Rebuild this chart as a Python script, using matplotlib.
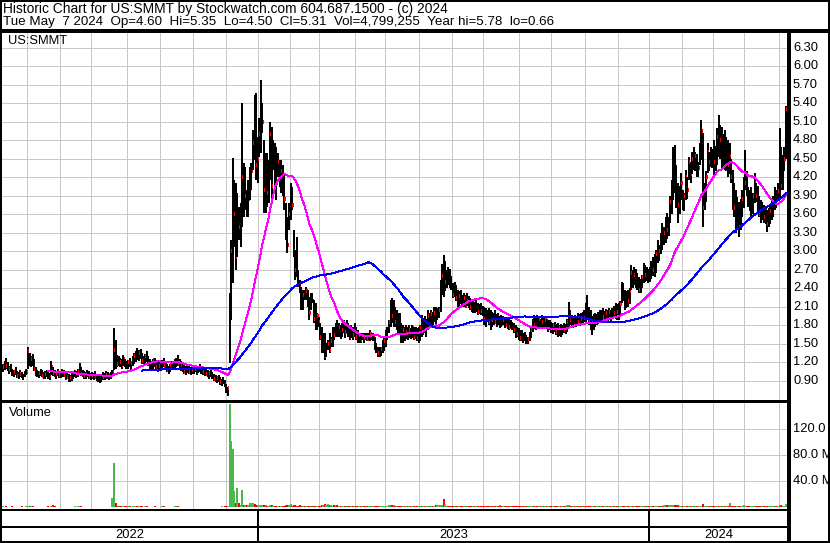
import matplotlib
matplotlib.use("Agg")
import matplotlib.pyplot as plt
from matplotlib.collections import LineCollection
from matplotlib.lines import Line2D
from matplotlib.transforms import blended_transform_factory
import numpy as np
import pandas as pd

plt.rcParams['font.family'] = ['Liberation Sans', 'DejaVu Sans']

# ---------------- data (daily, 2022-05-09 .. 2024-05-07) ----------------
highs = [
    1.18, 1.22, 1.28, 1.20, 1.15, 1.17, 1.10, 1.08, 1.12, 1.06, 1.04, 1.07, 1.05, 1.02, 1.06, 1.10,
    1.45, 1.35, 1.30, 1.33, 1.25, 1.12, 1.08, 1.06, 1.10, 1.07, 1.04, 1.06, 1.08, 1.05, 1.03, 1.22, 1.12, 1.08, 1.05, 1.10, 1.06,
    1.06, 1.10, 1.08, 1.04, 1.05, 1.02, 1.00, 1.03, 1.05, 1.08, 1.06, 1.10, 1.19, 1.12, 1.08, 1.06, 1.04, 1.08, 1.06, 1.03,
    1.05, 1.03, 1.06, 1.02, 1.00, 0.98, 1.02, 1.04, 1.03, 1.06, 1.04, 1.02, 1.05, 1.08, 1.75, 1.56, 1.32, 1.30, 1.28, 1.26, 1.32, 1.25, 1.22,
    1.24, 1.28, 1.22, 1.30, 1.35, 1.38, 1.43, 1.40, 1.42, 1.36, 1.30, 1.33, 1.38, 1.30, 1.26, 1.22, 1.25, 1.28, 1.24, 1.20, 1.22,
    1.20, 1.24, 1.27, 1.22, 1.18, 1.15, 1.18, 1.22, 1.20, 1.25, 1.28, 1.32, 1.26, 1.22, 1.20, 1.16, 1.14, 1.18, 1.15, 1.12, 1.14,
    1.14, 1.16, 1.12, 1.15, 1.18, 1.14, 1.12, 1.10, 1.12, 1.08, 1.06, 1.09, 1.05, 1.02, 1.00, 0.98, 1.00, 0.96, 0.94, 0.97, 0.92,
    0.85, 0.80, 2.32, 3.18, 4.51, 4.15, 4.10, 3.94, 3.72, 3.78, 5.40, 4.43, 4.37, 3.99, 4.15, 4.37, 4.43, 4.96, 5.53, 5.56, 4.85,
    5.16, 5.78, 5.40, 4.80, 4.59, 4.59, 4.48, 5.09, 5.01, 4.80, 4.75, 4.69, 4.59, 4.48, 4.48, 4.40, 4.27, 3.78, 3.55, 3.78,
    4.10, 4.04, 3.34, 3.02, 3.23, 2.70, 2.54, 2.42, 2.37, 2.37, 2.42, 2.37, 2.26, 2.32, 2.32, 2.21, 2.16, 2.00, 1.94,
    1.84, 1.77, 1.68, 1.68, 1.52, 1.56, 1.68, 1.61, 1.77, 1.77, 1.84, 1.89, 1.84, 1.80, 1.84, 1.89, 1.82, 1.89, 1.84, 1.77, 1.80, 1.77, 1.84,
    1.77, 1.73, 1.68, 1.68, 1.68, 1.68, 1.68, 1.68, 1.68, 1.73, 1.68, 1.68, 1.61, 1.52, 1.45, 1.45, 1.45, 1.56, 1.60,
    1.73, 1.77, 1.89, 2.21, 2.24, 2.21, 2.10, 2.05, 2.00, 2.00, 1.84, 1.80, 1.77, 1.80, 1.78, 1.80, 1.76, 1.80, 1.77, 1.78, 1.75, 1.77,
    1.80, 1.97, 1.92, 1.95, 1.90, 2.05, 2.00, 2.05, 2.02, 2.10, 2.10, 2.08, 2.10, 2.54, 2.80, 2.94, 2.85, 2.70, 2.75, 2.72, 2.60,
    2.48, 2.50, 2.45, 2.37, 2.35, 2.37, 2.30, 2.32, 2.30, 2.32, 2.28, 2.25, 2.21, 2.20, 2.18, 2.21, 2.16, 2.15, 2.16, 2.12,
    2.10, 2.08, 2.05, 2.08, 2.05, 2.02, 2.00, 2.05, 1.98, 2.00, 1.95, 1.97, 1.95, 1.92, 1.94, 1.92, 1.90, 1.88, 1.85, 1.84, 1.80, 1.78, 1.75,
    1.72, 1.73, 1.68, 1.70, 1.65, 1.62, 1.70, 1.77, 1.90, 1.97, 1.92, 1.97, 1.95, 1.90, 1.97, 1.92, 1.95, 1.90, 1.89, 1.88,
    1.85, 1.84, 1.86, 1.82, 1.84, 1.80, 1.82, 1.80, 1.84, 1.82, 1.90, 2.18, 2.05, 1.97, 1.95, 1.97, 1.95, 2.00, 1.98, 2.00, 2.02, 2.05,
    2.16, 2.29, 2.10, 2.05, 1.95, 1.98, 2.00, 1.98, 2.02, 2.05, 2.05, 2.08, 2.04, 2.06, 2.05, 2.08, 2.05, 2.08, 2.12, 2.16, 2.14,
    2.16, 2.20, 2.51, 2.48, 2.37, 2.35, 2.37, 2.40, 2.78, 2.70, 2.75, 2.72, 2.65, 2.59, 2.55, 2.62, 2.81, 2.78, 2.75, 2.72,
    2.75, 2.85, 2.90, 2.95, 3.02, 3.18, 3.10, 3.30, 3.46, 3.40, 3.55, 3.62, 3.55, 3.90, 4.15, 4.69, 4.72, 4.40, 4.10, 4.05, 4.26,
    3.99, 3.95, 4.32, 4.20, 4.53, 4.45, 4.60, 4.69, 4.60, 4.58, 4.45, 4.75, 5.13, 4.91, 4.10, 4.30, 4.75, 4.60, 4.69, 4.65,
    4.80, 4.70, 5.00, 5.21, 5.05, 5.01, 4.90, 4.96, 4.85, 4.80, 4.75, 4.50, 4.32, 4.10, 3.99, 3.88, 3.80, 3.85, 3.99, 4.20,
    4.64, 4.30, 4.04, 4.00, 4.04, 3.95, 4.27, 4.10, 4.05, 3.90, 3.83, 3.80, 3.75, 3.72, 3.67, 3.70, 3.75, 3.83, 3.90, 4.04, 4.00, 4.10,
    5.00, 4.69, 4.56, 4.69, 5.35,
]
lows = [
    1.05, 1.08, 1.10, 1.06, 1.02, 1.04, 0.98, 0.96, 1.00, 0.95, 0.94, 0.97, 0.95, 0.92, 0.96, 0.99,
    1.10, 1.15, 1.12, 1.14, 1.06, 0.98, 0.96, 0.95, 0.98, 0.96, 0.93, 0.94, 0.96, 0.94, 0.92, 1.00, 0.98, 0.96, 0.94, 0.98, 0.95,
    0.95, 0.97, 0.96, 0.92, 0.93, 0.89, 0.88, 0.90, 0.93, 0.96, 0.95, 0.97, 1.00, 0.98, 0.96, 0.94, 0.93, 0.96, 0.94, 0.92,
    0.94, 0.92, 0.93, 0.90, 0.88, 0.87, 0.89, 0.92, 0.91, 0.94, 0.93, 0.91, 0.94, 0.97, 1.08, 1.10, 1.12, 1.14, 1.13, 1.10, 1.15, 1.12, 1.09,
    1.10, 1.12, 1.08, 1.14, 1.18, 1.20, 1.24, 1.22, 1.25, 1.18, 1.14, 1.16, 1.20, 1.14, 1.10, 1.07, 1.10, 1.12, 1.08, 1.05, 1.07,
    1.06, 1.10, 1.12, 1.08, 1.04, 1.02, 1.05, 1.08, 1.07, 1.10, 1.12, 1.15, 1.10, 1.06, 1.05, 1.02, 1.00, 1.03, 1.02, 0.99, 1.01,
    1.02, 1.04, 1.00, 1.03, 1.05, 1.02, 1.00, 0.98, 1.00, 0.96, 0.94, 0.97, 0.93, 0.90, 0.88, 0.86, 0.88, 0.84, 0.82, 0.85, 0.80,
    0.70, 0.66, 1.19, 1.89, 2.49, 3.07, 2.70, 2.91, 3.18, 3.07, 3.39, 3.55, 3.67, 3.55, 3.55, 3.83, 3.99, 4.32, 4.48, 4.15, 4.10,
    4.53, 4.59, 4.91, 3.62, 3.62, 3.72, 3.78, 4.15, 3.78, 4.32, 4.04, 3.83, 4.20, 4.04, 3.94, 3.90, 3.67, 3.18, 2.97, 3.34,
    3.51, 3.67, 2.91, 2.54, 2.58, 2.42, 2.32, 2.05, 2.05, 2.21, 2.21, 2.10, 1.89, 2.05, 2.16, 1.84, 1.73, 1.73, 1.77,
    1.56, 1.35, 1.35, 1.24, 1.29, 1.40, 1.35, 1.45, 1.45, 1.56, 1.61, 1.61, 1.61, 1.58, 1.61, 1.68, 1.60, 1.68, 1.61, 1.56, 1.60, 1.56, 1.61,
    1.56, 1.52, 1.52, 1.52, 1.56, 1.52, 1.56, 1.54, 1.56, 1.54, 1.56, 1.54, 1.40, 1.35, 1.29, 1.29, 1.30, 1.35, 1.38,
    1.45, 1.56, 1.68, 1.77, 1.84, 1.77, 1.77, 1.73, 1.68, 1.68, 1.52, 1.52, 1.55, 1.58, 1.56, 1.60, 1.58, 1.60, 1.56, 1.58, 1.55, 1.52,
    1.55, 1.61, 1.65, 1.68, 1.62, 1.73, 1.75, 1.78, 1.76, 1.85, 1.80, 1.89, 1.92, 2.02, 2.30, 2.26, 2.35, 2.40, 2.45, 2.40, 2.37,
    2.24, 2.26, 2.20, 2.10, 2.12, 2.15, 2.10, 2.10, 2.08, 2.12, 2.08, 2.05, 2.02, 2.00, 2.00, 2.02, 1.97, 1.98, 1.97, 1.96,
    1.80, 1.78, 1.85, 1.80, 1.73, 1.78, 1.80, 1.82, 1.78, 1.80, 1.76, 1.78, 1.80, 1.76, 1.78, 1.74, 1.73, 1.75, 1.73, 1.68, 1.60, 1.62, 1.56,
    1.55, 1.55, 1.52, 1.55, 1.50, 1.50, 1.55, 1.60, 1.70, 1.74, 1.73, 1.76, 1.74, 1.76, 1.78, 1.75, 1.78, 1.74, 1.70, 1.72,
    1.68, 1.66, 1.70, 1.65, 1.62, 1.63, 1.62, 1.65, 1.68, 1.66, 1.70, 1.77, 1.80, 1.78, 1.76, 1.80, 1.78, 1.80, 1.79, 1.80, 1.82, 1.85,
    1.85, 1.90, 1.80, 1.72, 1.65, 1.72, 1.78, 1.80, 1.82, 1.84, 1.86, 1.88, 1.85, 1.88, 1.86, 1.88, 1.85, 1.90, 1.92, 1.90, 1.89,
    1.89, 1.95, 2.16, 2.20, 2.05, 2.08, 2.10, 2.15, 2.37, 2.40, 2.45, 2.40, 2.38, 2.32, 2.32, 2.40, 2.48, 2.50, 2.52, 2.48,
    2.50, 2.55, 2.60, 2.58, 2.65, 2.81, 2.85, 2.95, 3.02, 3.10, 3.13, 3.20, 3.25, 3.46, 3.60, 3.83, 3.95, 3.70, 3.46, 3.60, 3.83,
    3.67, 3.65, 3.83, 3.85, 4.15, 4.10, 4.25, 4.32, 4.30, 4.20, 4.20, 4.40, 4.48, 3.39, 3.67, 3.80, 4.27, 4.30, 4.37, 4.35,
    4.20, 4.30, 4.40, 4.53, 4.50, 4.32, 4.35, 4.32, 4.30, 4.20, 4.25, 4.10, 3.67, 3.55, 3.29, 3.40, 3.23, 3.35, 3.55, 3.70,
    3.99, 3.90, 3.72, 3.65, 3.55, 3.60, 3.78, 3.80, 3.62, 3.55, 3.46, 3.50, 3.46, 3.45, 3.31, 3.40, 3.45, 3.50, 3.55, 3.67, 3.70, 3.83,
    3.85, 3.99, 4.00, 4.30, 4.50,
]
closes = [
    1.12, 1.18, 1.14, 1.09, 1.10, 1.06, 1.01, 1.04, 1.02, 0.98, 1.00, 1.01, 0.97, 0.99, 1.03, 1.05,
    1.38, 1.20, 1.25, 1.18, 1.10, 1.02, 1.00, 1.03, 1.01, 0.98, 0.99, 1.02, 0.98, 0.97, 1.00, 1.12, 1.03, 1.00, 1.02, 1.04, 0.99,
    1.00, 1.04, 0.99, 0.95, 0.97, 0.92, 0.95, 0.99, 1.01, 1.04, 1.00, 1.06, 1.10, 1.02, 1.00, 0.98, 1.01, 1.02, 0.97, 0.96,
    0.98, 0.95, 0.97, 0.92, 0.90, 0.94, 0.97, 0.96, 1.00, 0.99, 0.97, 1.00, 1.03, 1.05, 1.40, 1.20, 1.18, 1.24, 1.20, 1.16, 1.25, 1.17, 1.14,
    1.20, 1.15, 1.19, 1.27, 1.30, 1.35, 1.28, 1.36, 1.26, 1.22, 1.28, 1.31, 1.24, 1.18, 1.14, 1.20, 1.24, 1.15, 1.12, 1.16, 1.14,
    1.15, 1.20, 1.14, 1.10, 1.08, 1.12, 1.16, 1.12, 1.20, 1.22, 1.26, 1.18, 1.14, 1.16, 1.10, 1.05, 1.12, 1.08, 1.04, 1.10, 1.07,
    1.08, 1.10, 1.05, 1.12, 1.08, 1.06, 1.04, 1.07, 1.02, 0.99, 1.03, 1.00, 0.96, 0.94, 0.92, 0.95, 0.90, 0.88, 0.92, 0.86, 0.84,
    0.76, 0.78, 2.20, 3.00, 3.40, 3.60, 2.90, 3.60, 3.40, 3.45, 4.20, 3.75, 3.90, 3.75, 3.85, 4.05, 4.30, 4.75, 4.70, 4.40, 4.50,
    4.90, 5.00, 5.10, 4.00, 4.20, 3.95, 4.30, 4.90, 4.05, 4.60, 4.40, 4.10, 4.45, 4.20, 4.30, 4.05, 3.85, 3.35, 3.10, 3.60,
    3.95, 3.75, 3.00, 2.70, 2.62, 2.50, 2.40, 2.10, 2.30, 2.25, 2.35, 2.15, 2.00, 2.25, 2.20, 1.90, 1.80, 1.95, 1.85,
    1.62, 1.45, 1.55, 1.30, 1.45, 1.50, 1.40, 1.55, 1.70, 1.65, 1.75, 1.70, 1.78, 1.65, 1.72, 1.80, 1.70, 1.75, 1.70, 1.62, 1.72, 1.65, 1.70,
    1.62, 1.58, 1.64, 1.57, 1.62, 1.60, 1.64, 1.58, 1.62, 1.66, 1.60, 1.62, 1.45, 1.40, 1.35, 1.38, 1.42, 1.50, 1.55,
    1.70, 1.74, 1.85, 2.15, 1.95, 2.05, 1.85, 1.95, 1.80, 1.75, 1.60, 1.72, 1.62, 1.70, 1.65, 1.72, 1.66, 1.75, 1.62, 1.70, 1.60, 1.65,
    1.75, 1.70, 1.85, 1.78, 1.80, 1.95, 1.82, 1.98, 1.90, 2.00, 1.95, 2.02, 2.05, 2.45, 2.60, 2.40, 2.50, 2.62, 2.55, 2.48, 2.45,
    2.30, 2.40, 2.25, 2.15, 2.28, 2.20, 2.15, 2.25, 2.12, 2.20, 2.15, 2.10, 2.08, 2.12, 2.05, 2.10, 2.02, 2.08, 2.04, 2.00,
    1.90, 1.95, 1.92, 1.85, 1.95, 1.88, 1.92, 1.86, 1.90, 1.85, 1.90, 1.82, 1.88, 1.84, 1.80, 1.86, 1.78, 1.82, 1.76, 1.72, 1.70, 1.66, 1.62,
    1.60, 1.65, 1.58, 1.62, 1.55, 1.58, 1.66, 1.72, 1.85, 1.80, 1.88, 1.82, 1.90, 1.80, 1.86, 1.82, 1.88, 1.78, 1.82, 1.76,
    1.75, 1.80, 1.72, 1.70, 1.68, 1.75, 1.70, 1.76, 1.72, 1.78, 1.85, 1.95, 1.88, 1.84, 1.90, 1.85, 1.92, 1.86, 1.94, 1.90, 1.96, 1.92,
    2.05, 2.00, 1.88, 1.80, 1.85, 1.90, 1.86, 1.92, 1.95, 1.90, 1.98, 1.94, 1.96, 2.00, 1.95, 2.02, 1.98, 2.05, 2.00, 2.08, 2.02,
    2.10, 2.15, 2.40, 2.30, 2.15, 2.25, 2.20, 2.35, 2.65, 2.50, 2.62, 2.48, 2.42, 2.38, 2.50, 2.58, 2.70, 2.62, 2.68, 2.60,
    2.65, 2.80, 2.70, 2.90, 2.95, 3.05, 3.00, 3.20, 3.15, 3.30, 3.45, 3.35, 3.50, 3.80, 4.00, 4.50, 4.30, 3.80, 3.75, 3.95, 4.10,
    3.80, 3.90, 4.20, 4.00, 4.45, 4.25, 4.50, 4.40, 4.55, 4.30, 4.35, 4.60, 4.95, 3.70, 3.95, 4.20, 4.60, 4.45, 4.55, 4.50,
    4.45, 4.60, 4.85, 4.70, 4.80, 4.55, 4.75, 4.50, 4.65, 4.40, 4.55, 4.20, 3.80, 3.70, 3.50, 3.65, 3.40, 3.70, 3.85, 4.05,
    4.10, 4.00, 3.85, 3.75, 3.80, 3.90, 4.10, 3.90, 3.70, 3.60, 3.55, 3.70, 3.55, 3.65, 3.45, 3.60, 3.65, 3.75, 3.80, 3.95, 3.85, 3.98,
    4.62, 4.05, 4.45, 4.50, 5.31,
]
volumes = [  # millions of shares
    0.5, 0.4, 0.6, 0.4, 0.3, 0.4, 0.5, 0.4, 0.3, 0.4, 0.4, 0.3, 0.5, 0.4, 0.4, 0.5,
    1.5, 0.8, 0.6, 0.5, 0.4, 0.4, 0.3, 0.4, 0.4, 0.3, 0.4, 0.3, 0.4, 0.5, 0.4, 0.9, 2.0, 0.5, 0.4, 0.4, 0.3,
    0.4, 0.3, 0.4, 0.3, 0.4, 0.3, 0.3, 0.4, 0.4, 0.5, 0.4, 0.5, 0.9, 0.5, 0.4, 0.3, 0.4, 0.4, 0.3, 0.3,
    0.3, 0.4, 0.3, 0.3, 0.4, 0.3, 0.4, 0.3, 0.4, 0.3, 0.4, 0.3, 0.4, 13.0, 67.0, 5.5, 1.5, 1.2, 1.0, 0.8, 1.0, 0.6, 0.5,
    0.6, 0.5, 0.4, 0.6, 0.7, 0.6, 0.8, 0.6, 0.7, 0.5, 0.4, 0.5, 0.6, 0.4, 0.4, 0.3, 0.4, 0.5, 0.4, 0.3, 0.4,
    0.4, 0.5, 0.5, 0.4, 0.3, 0.3, 0.4, 0.4, 0.3, 0.5, 0.5, 0.7, 0.4, 0.4, 0.3, 0.3, 0.3, 0.4, 0.3, 0.3, 0.3,
    0.3, 0.4, 0.3, 0.4, 0.4, 0.3, 0.3, 0.3, 0.3, 0.3, 0.3, 0.3, 0.3, 0.4, 0.3, 0.4, 0.3, 0.4, 0.5, 0.4, 0.6,
    0.8, 1.0, 159.0, 102.0, 89.0, 24.0, 5.5, 29.0, 5.5, 3.0, 26.0, 3.0, 3.5, 3.0, 2.5, 5.5, 5.5, 5.5, 4.0, 3.0, 3.0,
    2.5, 2.5, 2.5, 2.0, 2.5, 1.5, 1.5, 2.0, 2.0, 1.5, 1.2, 1.5, 1.2, 1.0, 1.5, 1.2, 1.5, 2.5, 2.5, 2.0,
    4.0, 1.5, 2.0, 2.0, 1.5, 1.5, 2.0, 1.5, 1.0, 1.0, 1.0, 0.8, 1.0, 0.8, 1.0, 0.8, 1.5, 1.5, 1.5,
    1.0, 3.0, 3.5, 4.0, 3.0, 5.0, 2.0, 2.0, 1.5, 2.5, 2.5, 2.5, 1.5, 1.5, 1.0, 1.0, 0.8, 1.0, 0.8, 0.8, 1.0, 1.0, 0.8,
    0.8, 1.0, 0.8, 1.0, 1.0, 1.0, 0.8, 0.8, 0.8, 0.8, 0.8, 0.8, 0.8, 0.8, 1.5, 1.5, 1.5, 1.0, 1.0,
    1.0, 1.0, 2.0, 2.5, 2.0, 2.0, 1.0, 1.0, 1.5, 1.5, 1.5, 1.0, 0.8, 0.8, 0.8, 0.8, 0.8, 0.8, 0.8, 0.8, 1.5, 0.8,
    0.8, 0.8, 0.8, 0.8, 0.8, 0.8, 0.8, 0.8, 0.8, 0.8, 3.5, 3.5, 3.5, 3.5, 3.5, 12.0, 2.0, 1.5, 1.0, 0.8, 0.8,
    0.8, 0.8, 0.8, 0.8, 0.8, 0.8, 0.8, 0.8, 0.8, 0.8, 0.8, 0.8, 0.8, 0.8, 1.0, 1.2, 1.0, 0.8, 0.8, 0.8,
    0.8, 0.8, 0.8, 0.8, 1.0, 1.2, 1.5, 1.0, 1.2, 1.0, 2.0, 1.2, 1.0, 1.0, 1.0, 1.2, 0.8, 0.8, 0.8, 0.8, 0.8, 0.8, 0.8,
    0.8, 0.8, 1.0, 0.8, 0.8, 0.8, 0.8, 0.8, 0.8, 1.0, 0.8, 0.8, 0.8, 0.8, 0.8, 0.8, 0.8, 0.8, 0.8, 0.8,
    0.8, 0.8, 0.8, 0.8, 0.8, 0.8, 0.8, 0.8, 0.8, 0.8, 3.0, 3.0, 1.0, 0.8, 0.8, 0.8, 0.8, 0.8, 0.8, 0.8, 0.8, 0.8,
    1.5, 1.5, 1.5, 1.5, 1.5, 0.8, 0.8, 0.8, 0.8, 0.8, 0.8, 0.8, 0.8, 0.8, 0.8, 0.8, 0.8, 0.8, 1.0, 1.0, 1.0,
    1.0, 1.0, 1.2, 1.0, 0.8, 0.8, 0.8, 1.0, 1.2, 1.0, 1.0, 0.8, 0.8, 0.8, 0.8, 0.8, 1.0, 1.0, 1.0, 1.0,
    1.0, 1.0, 1.0, 1.0, 1.0, 1.0, 0.8, 0.8, 0.8, 2.0, 2.0, 2.0, 2.0, 2.0, 2.0, 2.5, 2.5, 2.5, 2.5, 1.5, 1.5,
    1.5, 1.5, 1.5, 1.5, 1.5, 1.5, 1.5, 1.5, 1.5, 1.5, 1.5, 1.5, 1.5, 4.5, 1.0, 1.0, 1.0, 1.0, 1.0, 0.8,
    0.8, 0.8, 1.0, 1.0, 1.0, 1.0, 1.0, 1.0, 1.0, 1.0, 5.5, 1.5, 1.5, 1.5, 1.5, 1.5, 1.5, 1.5, 1.5, 3.0,
    1.5, 1.5, 1.5, 1.5, 1.5, 1.5, 1.5, 1.5, 1.5, 0.8, 0.8, 0.8, 0.8, 0.8, 1.0, 1.0, 0.8, 1.0, 0.8, 0.8, 1.0, 1.0,
    3.0, 2.0, 1.5, 1.5, 4.8,
]
market_holidays = [
    "2022-05-30", "2022-06-20", "2022-07-04", "2022-09-05", "2022-11-24", "2022-12-26",
    "2023-01-02", "2023-01-16", "2023-02-20", "2023-04-07", "2023-05-29", "2023-06-19",
    "2023-07-04", "2023-09-04", "2023-11-23", "2023-12-25",
    "2024-01-01", "2024-01-15", "2024-02-19", "2024-03-29",
]
price_ticks = [0.90, 1.20, 1.50, 1.80, 2.10, 2.40, 2.70, 3.00, 3.30, 3.60, 3.90,
               4.20, 4.50, 4.80, 5.10, 5.40, 5.70, 6.00, 6.30]
volume_ticks = [40, 80, 120]
header1 = "Historic Chart for US:SMMT by Stockwatch.com 604.687.1500 - (c) 2024"
header2 = "Tue May  7 2024  Op=4.60  Hi=5.35  Lo=4.50  Cl=5.31  Vol=4,799,255  Year hi=5.78  lo=0.66"
symbol = "US:SMMT"

# ---------------- layout ----------------
n = len(closes)
assert len(highs) == n and len(lows) == n and len(volumes) == n, (len(highs), len(lows), n, len(volumes))

days = pd.bdate_range("2022-05-09", "2024-05-07")
days = days[~days.isin(pd.to_datetime(market_holidays))]
assert len(days) == n, (len(days), n)
idx = np.arange(n)
month_starts = [i for i in range(1, n) if days[i].month != days[i - 1].month]
year_starts = [i for i in range(1, n) if days[i].year != days[i - 1].year]

W, H = 830, 543
fig = plt.figure(figsize=(W / 100, H / 100), dpi=100)
fig.patch.set_facecolor('white')


def fx(x):
    return x / W


def fy(y):
    return 1 - y / H


X0, X1 = 2, 788
ax_p = fig.add_axes([fx(X0), fy(400), fx(X1) - fx(X0), fy(32) - fy(400)])
ax_v = fig.add_axes([fx(X0), fy(509), fx(X1) - fx(X0), fy(402) - fy(509)])
for ax in (ax_p, ax_v):
    ax.set_axis_off()
    ax.set_xlim(-0.64, n + 0.4)
ax_p.set_ylim(0.592, 6.551)
ax_v.set_ylim(-3.4, 161.5)

GRID = '#c8c8c8'
GLW = 0.68
for p in price_ticks:
    ax_p.axhline(p, color=GRID, lw=GLW, zorder=1, antialiased=False)
for v in volume_ticks:
    ax_v.axhline(v, color=GRID, lw=GLW, zorder=1, antialiased=False)
for m in month_starts:
    ax_p.axvline(m - 0.6, color=GRID, lw=GLW, zorder=1, antialiased=False)
    ax_v.axvline(m - 0.6, color=GRID, lw=GLW, zorder=1, antialiased=False)

# price bars with close ticks, painted in order (next bar may cover the tick)
segs, cols, lws = [], [], []
for i in range(n):
    segs.append([(i, lows[i]), (i, highs[i])])
    cols.append('black')
    lws.append(1.25)
    segs.append([(i + 0.15, closes[i]), (i + 0.95, closes[i])])
    cols.append('#ff0000')
    lws.append(1.45)
ax_p.add_collection(LineCollection(segs, colors=cols, linewidths=lws,
                                   antialiased=False, zorder=3, capstyle='butt'))

cs = pd.Series(closes)
ax_p.plot(idx, cs.rolling(30).mean(), color='#ff00ff', lw=0.7, zorder=4, antialiased=False)
ax_p.plot(idx, cs.rolling(90).mean(), color='#0000ff', lw=0.7, zorder=4, antialiased=False)

# volume
vcols = ['#4cb84c' if (i == 0 or closes[i] >= closes[i - 1]) else '#ff0000' for i in range(n)]
ax_v.vlines(idx, 0, volumes, colors=vcols, lw=1.2, antialiased=False, zorder=3)


# ---------------- frame lines ----------------
def seg(x0, y0, x1, y1, lw_px):
    fig.add_artist(Line2D([fx(x0), fx(x1)], [fy(y0), fy(y1)], transform=fig.transFigure,
                          color='black', lw=lw_px * 0.72, solid_capstyle='butt', antialiased=False))


seg(0, 1, W, 1, 2)
seg(0, 541.8, W, 541.8, 2)
seg(1, 0, 1, H, 2)
seg(829, 0, 829, H, 2)
seg(0, 31, W, 31, 2.2)
seg(789.3, 31, 789.3, H, 2.2)
seg(0, 400, 789, 400, 1)
seg(0, 402, 789, 402, 1.5)
seg(0, 510, 789, 510, 2)
seg(0, 527, 789, 527, 2)

tr_band = blended_transform_factory(ax_v.transData, fig.transFigure)
for ys in year_starts:
    fig.add_artist(Line2D([ys - 0.6, ys - 0.6], [fy(510), fy(542)], transform=tr_band,
                          color='black', lw=1.6 * 0.72, antialiased=False))

# ---------------- texts ----------------
fig.text(fx(3), fy(8.5), header1, fontsize=9.9, va='center', ha='left')
fig.text(fx(3), fy(21.5), header2, fontsize=9.6, va='center', ha='left')
fig.text(fx(8), fy(41.5), symbol, fontsize=9.3, va='center', ha='left')
fig.text(fx(9), fy(413), "Volume", fontsize=9.3, va='center', ha='left')

tr_p = blended_transform_factory(fig.transFigure, ax_p.transData)
for p in price_ticks:
    fig.text(fx(793), p, f"{p:.2f}", transform=tr_p, fontsize=9.3, va='center', ha='left')
tr_v = blended_transform_factory(fig.transFigure, ax_v.transData)
for v in volume_ticks:
    # the reference shows these labels running past the right edge of the image
    fig.text(fx(793), v, f"{v:.1f} M", transform=tr_v, fontsize=9.3, va='center', ha='left')

bounds = [-0.64] + [ys - 0.6 for ys in year_starts] + [n + 0.4]
year_labels = [str(days[0].year)] + [str(days[ys].year) for ys in year_starts]
for k, lab in enumerate(year_labels):
    fig.text((bounds[k] + bounds[k + 1]) / 2, fy(534.5), lab, transform=tr_band,
             fontsize=9.3, va='center', ha='center')

fig.savefig("out.png", dpi=100, facecolor='white')
